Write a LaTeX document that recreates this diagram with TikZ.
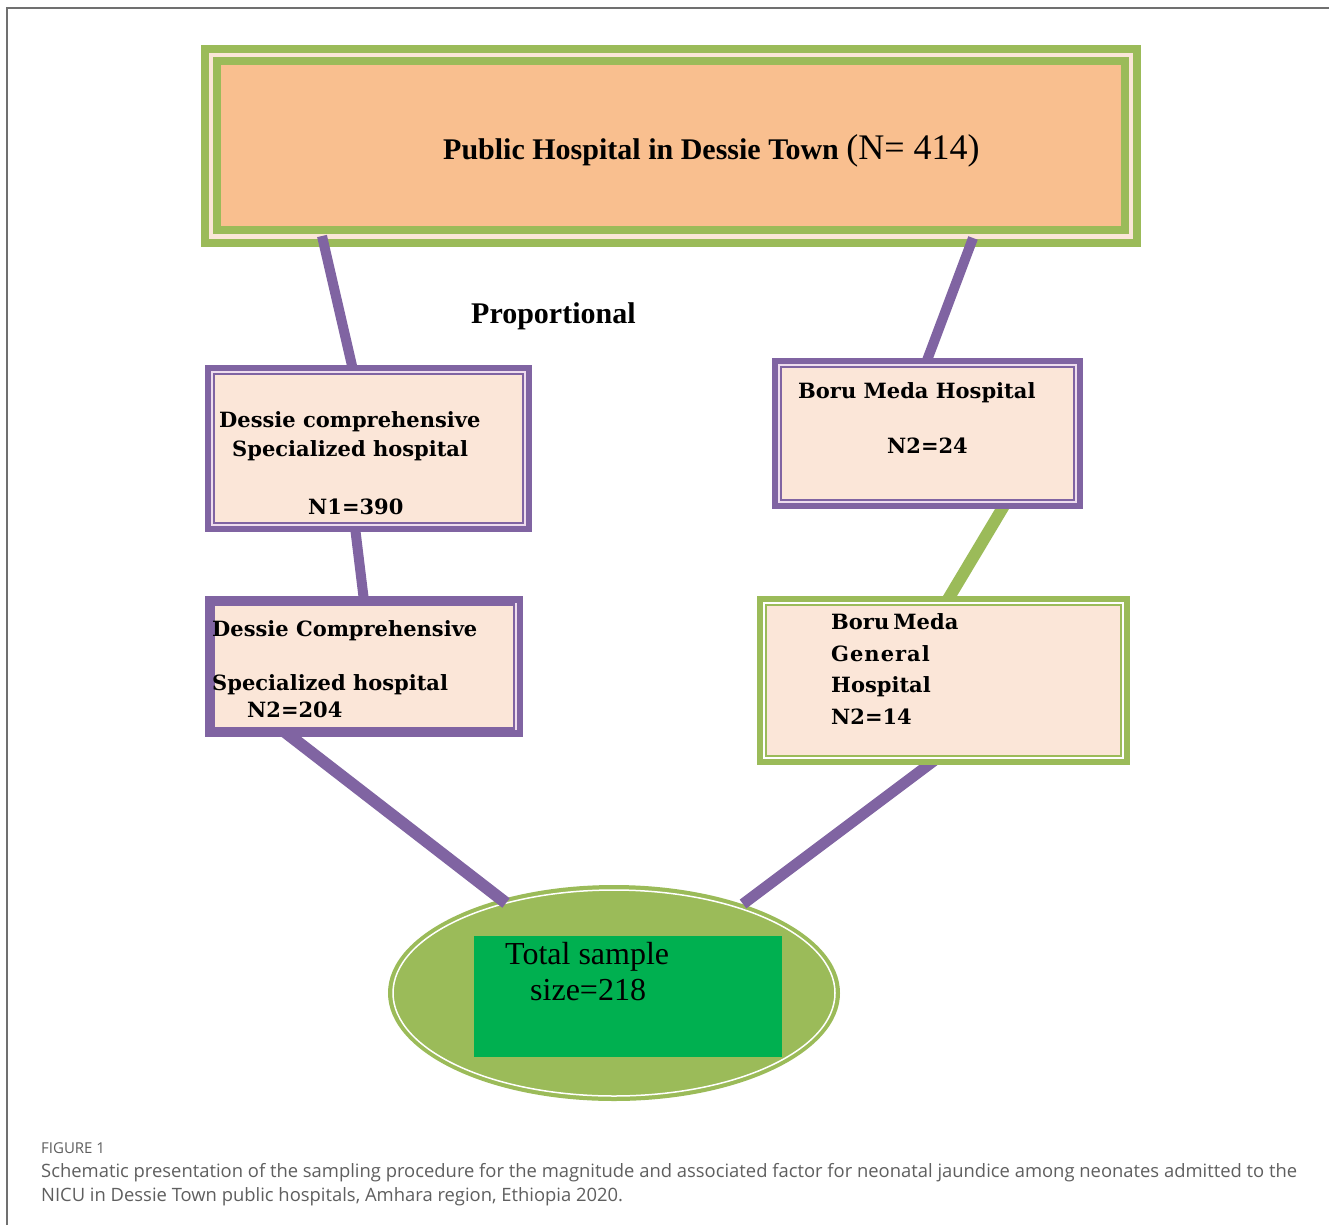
\documentclass[tikz,border=0pt]{standalone}
\usepackage{fontspec}
\setmainfont{Liberation Serif}
\newfontfamily\boxf{DejaVu Serif}
\newfontfamily\capf{Open Sans}
\usetikzlibrary{shapes.geometric,calc}
\definecolor{vpurple}{HTML}{8064A2}
\definecolor{vgreen}{HTML}{9BBB59}
\definecolor{vorange}{HTML}{F9BF8F}
\definecolor{vpeach}{HTML}{FBE6D8}
\definecolor{vgreenb}{HTML}{00B050}
\definecolor{capgray}{HTML}{5F5F5F}
\definecolor{framegray}{HTML}{707070}
\definecolor{lightlav}{HTML}{EEDDEE}
\begin{document}
\begin{tikzpicture}[x=1pt,y=-1pt,
  pbox/.style={rectangle,draw=vpurple,line width=10pt,fill=vpeach,outer sep=0pt,inner sep=0pt},
  gbox/.style={rectangle,draw=vgreen,line width=10pt,fill=vpeach,outer sep=0pt,inner sep=0pt},
  hairp/.style={draw=lightlav,line width=1.2pt},
  hairg/.style={draw=white,line width=1.2pt},
  conn/.style={draw=vpurple,line width=10pt},
  conng/.style={draw=vgreen,line width=12pt},
  btxt/.style={font=\boxf\bfseries\fontsize{21}{25}\selectfont,anchor=base west,inner sep=0pt},
  ttxt/.style={font=\fontsize{30}{36}\selectfont,anchor=base west,inner sep=0pt},
  captxt/.style={font=\capf\fontsize{18.4}{22}\selectfont,text=capgray,anchor=base west,inner sep=0pt}
]
\useasboundingbox (0,0) rectangle (1329,1225);
\fill[white] (0,0) rectangle (1329,1225);
\draw[framegray,line width=1.5pt] (7,1225) -- (7,8) -- (1329,8);

% top box
\node[rectangle,draw=vgreen,line width=8pt,fill=vpeach,outer sep=0pt,minimum width=932pt,minimum height=194pt] (topo) at (671,146) {};
\node[rectangle,draw=vgreen,line width=8pt,fill=vorange,outer sep=0pt,minimum width=908pt,minimum height=169pt] (topi) at (671,145.5) {};
\node[ttxt] (title) at (443,160) {\textbf{Public Hospital in Dessie Town} {\fontsize{36}{40}\selectfont(N= 414)}};
\node[ttxt,font=\bfseries\fontsize{30}{36}\selectfont] (prop) at (471,323) {Proportional};

% ellipse
\node[ellipse,fill=vgreen,minimum width=452pt,minimum height=216pt,inner sep=0pt,outer sep=0pt] (tot) at (614,993) {};
\node[ellipse,draw=white,line width=1.5pt,minimum width=442pt,minimum height=206pt,inner sep=0pt,outer sep=0pt] (totin) at (614,993) {};
\node[rectangle,fill=vgreenb,minimum width=308pt,minimum height=121pt,inner sep=0pt,outer sep=0pt] (totrect) at (628,996.5) {};
\node[ttxt,font=\fontsize{32}{36}\selectfont] (tot1) at (505,964) {Total sample};
\node[ttxt,font=\fontsize{32}{36}\selectfont] (tot2) at (530,1000) {size=218};

% box positions for connectors
\coordinate (b1nw) at (210,370);
\coordinate (b2nw) at (210,601);
\coordinate (b3nw) at (777,363);
\coordinate (b4nw) at (762,601);

% connectors
\draw[conn] ([shift={(117,-7)}]topo.south west) -- ([shift={(143,0)}]b1nw);
\draw[conn] ([shift={(768,-5)}]topo.south west) -- ([shift={(149,0)}]b3nw);
\draw[conn] ([shift={(145,157)}]b1nw) -- ([shift={(154,0)}]b2nw);
\draw[conng] ([shift={(228,141)}]b3nw) -- ([shift={(185,0)}]b4nw);
\draw[conn,line width=12pt] ([shift={(75,131)}]b2nw) -- ([shift={(-108,-90)}]tot.center);
\draw[conn,line width=11pt] ([shift={(173,159)}]b4nw) -- ([shift={(129,-89)}]tot.center);

% box 1
\node[pbox,minimum width=317pt,minimum height=157pt] (b1) at (368.5,448.5) {};
\draw[hairp] ([shift={(2,2)}]b1.north west) rectangle ([shift={(-2,-2)}]b1.south east);
\node[btxt] (b1a) at (219,427) {Dessie comprehensive};
\node[btxt] (b1b) at (232,456) {Specialized hospital};
\node[btxt] (b1c) at (308,514) {N1=390};

% box 2
\node[pbox,minimum width=308pt,minimum height=131pt] (b2) at (364,666.5) {};
\draw[hairp] ([shift={(-2,2)}]b2.north east) -- ([shift={(-2,-2)}]b2.south east);
\node[btxt] (b2a) at (212,636) {Dessie Comprehensive};
\node[btxt] (b2b) at (212,690) {Specialized hospital};
\node[btxt] (b2c) at (247,717) {N2=204};

% box 3
\node[pbox,minimum width=301pt,minimum height=141pt] (b3) at (927.5,433.5) {};
\draw[hairp] ([shift={(2,2)}]b3.north west) rectangle ([shift={(-2,-2)}]b3.south east);
\node[btxt] (b3a) at (798,398) {Boru\hspace{0.35em}Meda\hspace{0.35em}Hospital};
\node[btxt] (b3b) at (887,453) {N2=24};

% box 4
\node[gbox,minimum width=363pt,minimum height=159pt] (b4) at (943.5,680.5) {};
\draw[hairg] ([shift={(2,2)}]b4.north west) rectangle ([shift={(-2,-2)}]b4.south east);
\node[btxt] (b4a) at (831,629) {Boru\hspace{0.2em}Meda};
\node[btxt] (b4b) at (831,661) {G\kern1pt e\kern1pt n\kern1pt e\kern1pt r\kern1pt a\kern1pt l};
\node[btxt] (b4c) at (831,692) {Hospital};
\node[btxt] (b4d) at (831,724) {N2=14};

% caption
\node[captxt,font=\capf\fontsize{15}{18}\selectfont] (figlab) at (41,1153) {FIGURE 1};
\node[captxt] (cap1) at (41,1177) {Schematic presentation of the sampling procedure for the magnitude and associated factor for neonatal jaundice among neonates admitted to the};
\node[captxt] (cap2) at (41,1201) {NICU in Dessie Town public hospitals, Amhara region, Ethiopia 2020.};
\end{tikzpicture}
\end{document}
